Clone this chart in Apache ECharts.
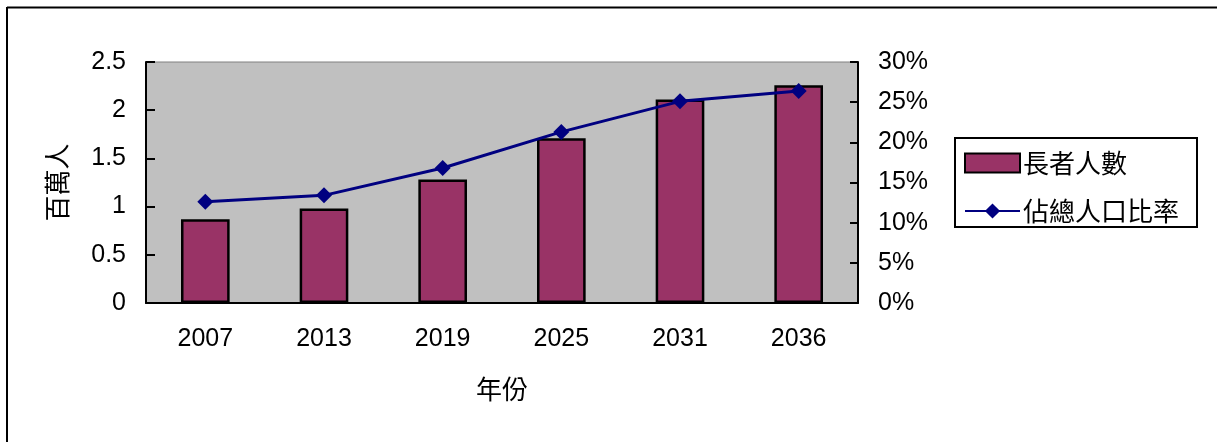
<!DOCTYPE html>
<html>
<head>
<meta charset="utf-8">
<script src="https://cdn.jsdelivr.net/npm/echarts@6/dist/echarts.min.js"></script>
<style>
html,body{margin:0;padding:0;background:#fff;}
#c{width:1217px;height:442px;}
</style>
</head>
<body>
<div id="c"></div>
<script>
const years = ['2007', '2013', '2019', '2025', '2031', '2036'];
const elderly = [0.87, 0.98, 1.28, 1.71, 2.11, 2.26];
const ratio = [12.6, 13.4, 16.8, 21.3, 25.1, 26.4];
const barName = '長者人數';
const lineName = '佔總人口比率';

const numFont = '"Liberation Sans", Arial, "Noto Sans CJK TC", sans-serif';
const cjkFont = '"Noto Sans CJK TC", "Liberation Sans", sans-serif';

const chart = echarts.init(document.getElementById('c'));
chart.setOption({
  animation: false,
  backgroundColor: '#ffffff',
  graphic: [
    { type: 'line', shape: { x1: 7, y1: 7.5, x2: 1217, y2: 7.5 }, style: { stroke: '#000', lineWidth: 2 } },
    { type: 'line', shape: { x1: 7, y1: 7, x2: 7, y2: 442 }, style: { stroke: '#000', lineWidth: 2 } }
  ],
  grid: {
    left: 146, right: 359, top: 62, bottom: 139,
    show: true, backgroundColor: '#c0c0c0', borderColor: '#808080', borderWidth: 1
  },
  legend: {
    orient: 'vertical',
    left: 955, top: 138,
    padding: [12, 18, 3, 9],
    itemGap: 22,
    itemWidth: 55, itemHeight: 19,
    backgroundColor: '#fff',
    borderColor: '#000', borderWidth: 2,
    textStyle: { fontFamily: cjkFont, fontSize: 26, color: '#000', padding: [0, 0, 0, -2] },
    data: [
      { name: barName, icon: 'rect' },
      { name: lineName }
    ]
  },
  xAxis: {
    type: 'category',
    data: years,
    name: '年份',
    nameLocation: 'middle',
    nameGap: 73,
    nameTextStyle: { fontFamily: cjkFont, fontSize: 26, color: '#000' },
    axisLine: { lineStyle: { color: '#000', width: 2 } },
    axisTick: { inside: true, length: 8, lineStyle: { color: '#000', width: 2 } },
    axisLabel: { fontFamily: numFont, fontSize: 25, color: '#000', margin: 24 }
  },
  yAxis: [
    {
      type: 'value', min: 0, max: 2.5, interval: 0.5,
      name: '百萬人',
      nameLocation: 'middle',
      nameGap: 76,
      nameTextStyle: { fontFamily: cjkFont, fontSize: 26, color: '#000' },
      axisLine: { show: true, lineStyle: { color: '#000', width: 2 } },
      axisTick: { show: true, inside: true, length: 9, lineStyle: { color: '#000', width: 2 } },
      axisLabel: { fontFamily: numFont, fontSize: 25, color: '#000', margin: 20 },
      splitLine: { show: false }
    },
    {
      type: 'value', min: 0, max: 30, interval: 5,
      position: 'right',
      axisLine: { show: true, lineStyle: { color: '#000', width: 2 } },
      axisTick: { show: true, inside: true, length: 8, lineStyle: { color: '#000', width: 2 } },
      axisLabel: { fontFamily: numFont, fontSize: 25, color: '#000', margin: 20, formatter: '{value}%' },
      splitLine: { show: false }
    }
  ],
  series: [
    {
      name: barName,
      type: 'bar',
      data: elderly,
      barWidth: '41%',
      itemStyle: { color: '#993366', borderColor: '#000', borderWidth: 2.5 }
    },
    {
      name: lineName,
      type: 'line',
      yAxisIndex: 1,
      data: ratio,
      symbol: 'diamond',
      symbolSize: 16,
      lineStyle: { color: '#000080', width: 3 },
      itemStyle: { color: '#000080' }
    }
  ]
});
</script>
</body>
</html>
